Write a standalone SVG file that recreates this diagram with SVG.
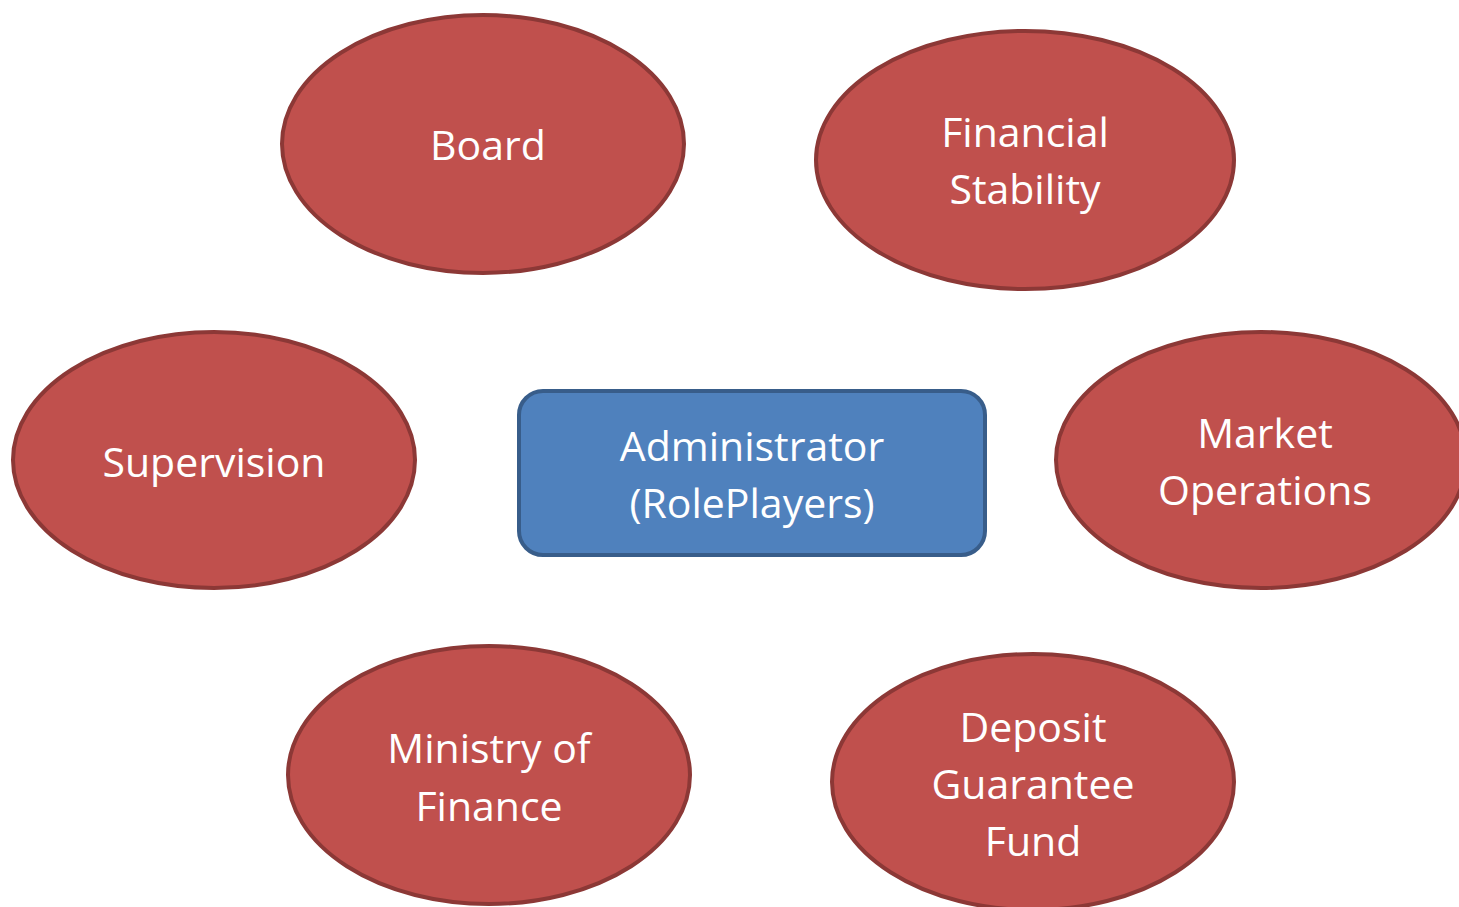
<svg xmlns="http://www.w3.org/2000/svg" width="1459" height="907" viewBox="0 0 1459 907">
<style>
.node ellipse{fill:#C0504D;stroke:#8C3836;stroke-width:4}
.node rect{fill:#4F81BD;stroke:#385D8A;stroke-width:4}
text{font-family:"Open Sans","Noto Sans",sans-serif;font-size:41px;fill:#FFFFFF;text-anchor:middle}
</style>
<rect width="1459" height="907" fill="#FFFFFF"/>
<g id="connectors"></g>
<g id="board" class="node">
<ellipse cx="483" cy="144" rx="201" ry="129"/>
<text x="488" y="160">Board</text>
</g>
<g id="financial-stability" class="node">
<ellipse cx="1025" cy="160" rx="209" ry="129"/>
<text x="1025" y="147">Financial</text>
<text x="1025" y="204">Stability</text>
</g>
<g id="supervision" class="node">
<ellipse cx="214" cy="460" rx="201" ry="128"/>
<text x="214" y="477">Supervision</text>
</g>
<g id="administrator" class="node">
<rect x="519" y="391" width="466" height="164" rx="24" ry="24"/>
<text x="752" y="461">Administrator</text>
<text x="752" y="518">(RolePlayers)</text>
</g>
<g id="market-operations" class="node">
<ellipse cx="1261" cy="460" rx="205" ry="128"/>
<text x="1265" y="448">Market</text>
<text x="1265" y="505">Operations</text>
</g>
<g id="ministry-of-finance" class="node">
<ellipse cx="489" cy="775" rx="201" ry="129"/>
<text x="489" y="763">Ministry of</text>
<text x="489" y="821">Finance</text>
</g>
<g id="deposit-guarantee-fund" class="node">
<ellipse cx="1033" cy="782" rx="201" ry="128"/>
<text x="1033" y="742">Deposit</text>
<text x="1033" y="799">Guarantee</text>
<text x="1033" y="856">Fund</text>
</g>
</svg>
